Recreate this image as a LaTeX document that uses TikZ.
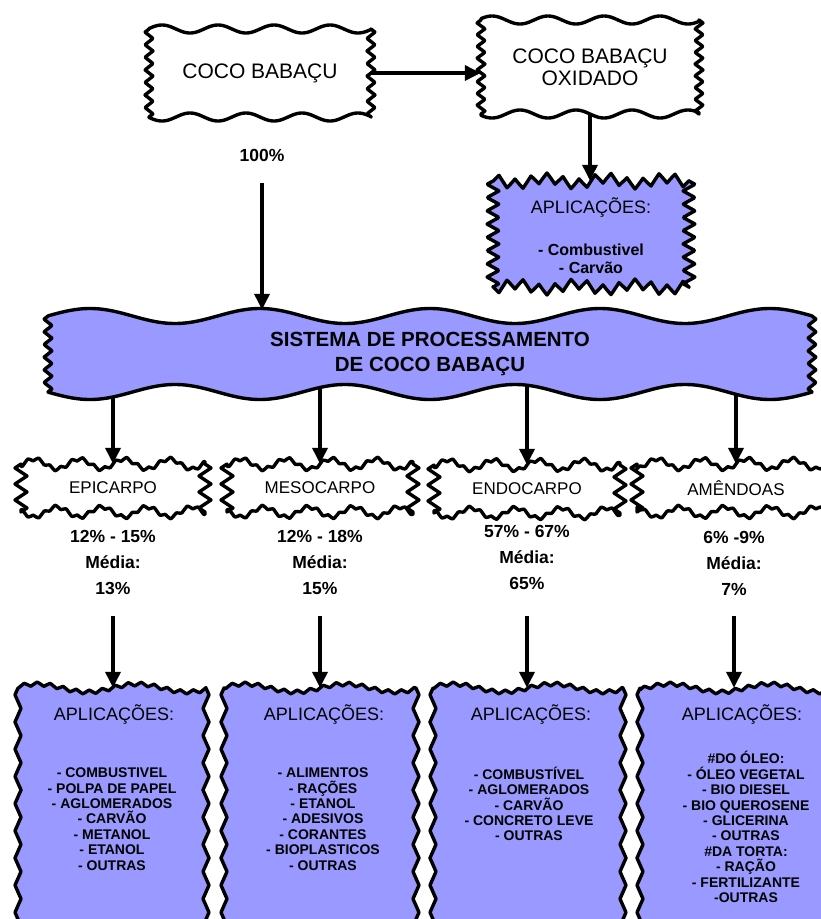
\documentclass[tikz,border=0pt]{standalone}
\usepackage{fontspec}
\setmainfont{Liberation Sans}
\usetikzlibrary{arrows.meta,backgrounds,calc}
\definecolor{lav}{RGB}{153,153,255}

\pgfkeys{/jag/.cd, wa/.initial=4, wp/.initial=56, ph/.initial=0, za/.initial=3, zp/.initial=7, tza/.initial=0, tzp/.initial=10}

\tikzset{
  declare function={tri(\u)=1-4*abs(\u+0.25-floor(\u+0.25)-0.5);},
  outline/.style={draw=black, line width=3.4pt, line join=round},
  boxtext/.style={inner sep=0pt, align=center},
  arr/.style={line width=3.4pt, -{Triangle[length=16pt,width=15pt]}},
  pct/.style={font=\bfseries\fontsize{17.5}{26}\selectfont, align=center, inner sep=0pt},
  apph/.style={font=\fontsize{18}{20}\selectfont, inner sep=0pt},
  lst/.style={font=\bfseries\fontsize{14}{15.4}\selectfont, align=center, inner sep=0pt},
}

% #1 opts, #2 name, #3 cx, #4 cy, #5 w, #6 h, #7 fill, #8 font, #9 text
\newcommand\jbox[9][]{%
  \pgfkeys{/jag/.cd,wa=4,wp=56,ph=0,za=3,zp=7,tza=0,tzp=10,#1}%
  \pgfmathsetmacro\jwa{\pgfkeysvalueof{/jag/wa}}%
  \pgfmathsetmacro\jwp{\pgfkeysvalueof{/jag/wp}}%
  \pgfmathsetmacro\jwk{360/\jwp}%
  \pgfmathsetmacro\jph{\pgfkeysvalueof{/jag/ph}}%
  \pgfmathsetmacro\jza{\pgfkeysvalueof{/jag/za}}%
  \pgfmathsetmacro\jzp{\pgfkeysvalueof{/jag/zp}}%
  \pgfmathsetmacro\jtza{\pgfkeysvalueof{/jag/tza}}%
  \pgfmathsetmacro\jtzp{\pgfkeysvalueof{/jag/tzp}}%
  \pgfmathsetmacro\jzpp{#6/max(1,round(#6/\jzp))}%
  \pgfmathsetmacro\jxa{#3-#5/2}\pgfmathsetmacro\jxb{#3+#5/2}%
  \pgfmathsetmacro\jya{#4-#6/2}\pgfmathsetmacro\jyb{#4+#6/2}%
  \pgfmathtruncatemacro\jnx{#5+1}\pgfmathtruncatemacro\jny{#6+1}%
  \filldraw[outline, fill=#7]
    plot[domain=\jxa:\jxb, samples=\jnx, variable=\t]
      ({\t},{\jya-\jwa*sin(\jwk*(\t-#3)+\jph)-\jtza*tri((\t-#3)/\jtzp)})
    -- plot[domain=\jya:\jyb, samples=\jny, variable=\t]
      ({\jxb+\jza*tri((\t-\jya)/\jzpp)},{\t})
    -- plot[domain=\jxb:\jxa, samples=\jnx, variable=\t]
      ({\t},{\jyb+\jwa*sin(\jwk*(\t-#3)+\jph)+\jtza*tri((\t-#3)/\jtzp)})
    -- plot[domain=\jyb:\jya, samples=\jny, variable=\t]
      ({\jxa-\jza*tri((\t-\jya)/\jzpp)},{\t})
    -- cycle;
  \node[boxtext, font=#8, minimum width=#5, minimum height=#6] (#2) at (#3,#4) {#9};
}

\begin{document}
\begin{tikzpicture}[x=1pt,y=-1pt]
\useasboundingbox (0,0) rectangle (821,919);
\clip (0,0) rectangle (821,919);

% top row
\jbox[wa=4,wp=56,za=4,zp=12]{coco}{260}{73}{222}{88}{white}{\fontsize{21}{22}\selectfont}{COCO BABAÇU}
\jbox[wa=4,wp=56,za=4,zp=12]{oxi}{590}{67}{218}{94}{white}{\fontsize{21}{22}\selectfont}{COCO BABAÇU\\OXIDADO}
\jbox[wa=3,wp=60,tza=5,tzp=16,za=6,zp=14]{appT}{591}{234}{196}{106}{lav}{}{}
\node[apph] (appTh) at (591,208) {APLICAÇÕES:};
\node[boxtext, font=\bfseries\fontsize{16}{18}\selectfont] (appTl) at (591,259) {- Combustivel\\- Carvão};

\node[font=\bfseries\fontsize{17.5}{20}\selectfont, inner sep=0pt] (hp) at (262,155) {100\%};

% system
\jbox[wa=7.5,wp=170,ph=90,za=4,zp=12]{sys}{430}{354}{764}{76}{lav}{\bfseries\fontsize{20.5}{25}\selectfont}{SISTEMA DE PROCESSAMENTO\\DE COCO BABAÇU}

% middle row
\jbox[wa=5,wp=45,tza=2,tzp=11,za=6,zp=14]{e1}{113}{488}{184}{48}{white}{\fontsize{17}{20}\selectfont}{EPICARPO}
\jbox[wa=5,wp=45,tza=2,tzp=11,za=6,zp=14]{e2}{320}{488}{186}{48}{white}{\fontsize{17}{20}\selectfont}{MESOCARPO}
\jbox[wa=5,wp=45,tza=2,tzp=11,za=6,zp=14]{e3}{527}{489}{186}{48}{white}{\fontsize{17}{20}\selectfont}{ENDOCARPO}
\jbox[wa=5,wp=45,tza=2,tzp=11,za=6,zp=14]{e4}{736}{488}{198}{48}{white}{\fontsize{17}{20}\selectfont}{AMÊNDOAS}

\node[pct] (p1) at (113,562) {12\% - 15\%\\Média:\\13\%};
\node[pct] (p2) at (320,562) {12\% - 18\%\\Média:\\15\%};
\node[pct] (p3) at (527,557) {57\% - 67\%\\Média:\\65\%};
\node[pct] (p4) at (734,563) {6\% -9\%\\Média:\\7\%};

% bottom row
\jbox[wa=4,wp=100,tza=2,tzp=13,za=3,zp=26]{a1}{112}{824}{188}{272}{lav}{}{}
\jbox[wa=4,wp=100,tza=2,tzp=13,za=3,zp=26]{a2}{320}{824}{192}{272}{lav}{}{}
\jbox[wa=4,wp=100,tza=2,tzp=13,za=3,zp=26]{a3}{528}{824}{190}{272}{lav}{}{}
\jbox[wa=4,wp=100,tza=2,tzp=13,za=3,zp=26]{a4}{745}{824}{210}{272}{lav}{}{}

\node[apph] (a1h) at (114,714) {APLICAÇÕES:};
\node[apph] (a2h) at (324,714) {APLICAÇÕES:};
\node[apph] (a3h) at (531,714) {APLICAÇÕES:};
\node[apph] (a4h) at (742,714) {APLICAÇÕES:};

\node[lst] (a1l) at (112,819) {- COMBUSTIVEL\\- POLPA DE PAPEL\\- AGLOMERADOS\\- CARVÃO\\- METANOL\\- ETANOL\\- OUTRAS};
\node[lst] (a2l) at (323,819) {- ALIMENTOS\\- RAÇÕES\\- ETANOL\\- ADESIVOS\\- CORANTES\\- BIOPLASTICOS\\- OUTRAS};
\node[lst] (a3l) at (529,804) {- COMBUSTÍVEL\\- AGLOMERADOS\\- CARVÃO\\- CONCRETO LEVE\\- OUTRAS};
\node[lst] (a4l) at (746,827) {\#DO ÓLEO:\\- ÓLEO VEGETAL\\- BIO DIESEL\\- BIO QUEROSENE\\- GLICERINA\\- OUTRAS\\\#DA TORTA:\\- RAÇÃO\\- FERTILIZANTE\\-OUTRAS};

% connectors
\begin{scope}[on background layer]
\draw[arr] (coco) -- (coco -| oxi.west);
\draw[arr] (oxi) -- (oxi |- appT.north);
\draw[arr, shorten <=22pt, shorten >=6pt] (hp.south) -- (hp.south |- sys.north);
\foreach \i in {1,2,3,4} {
  \draw[arr] (sys -| e\i.north) -- (e\i.north);
}
\draw[arr, shorten <=22pt] (p1.south) -- (p1.south |- a1.north);
\draw[arr, shorten <=22pt] (p2.south) -- (p2.south |- a2.north);
\draw[arr, shorten <=27pt] (p3.south) -- (p3.south |- a3.north);
\draw[arr, shorten <=21pt] (p4.south) -- (p4.south |- a4.north);
\end{scope}
\end{tikzpicture}
\end{document}
